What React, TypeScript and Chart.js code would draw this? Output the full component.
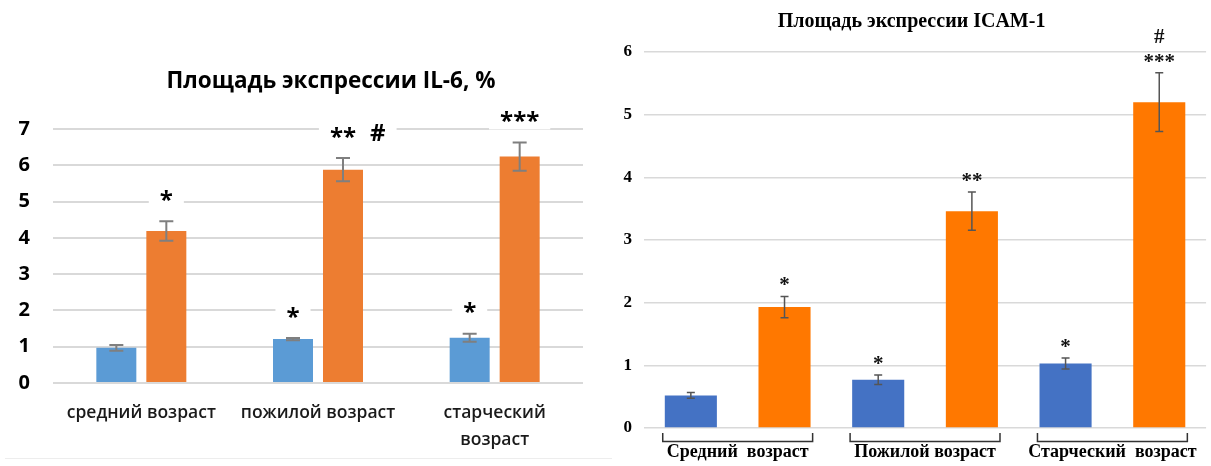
import React, { useEffect, useRef } from 'react';
import { Chart, registerables } from 'chart.js';

Chart.register(...registerables);

// ---- IL-6 panel data ----
const il6Categories: (string | string[])[] = ['средний возраст', 'пожилой возраст', ['старческий', 'возраст']];
const il6SeriesA = [0.97, 1.21, 1.25];
const il6ErrorsA = [0.08, 0.03, 0.11];
const il6SeriesB = [4.19, 5.88, 6.24];
const il6ErrorsB = [0.27, 0.32, 0.39];
const il6MarksA = ['', '*', '*'];
const il6MarksB = ['*', '** #', '***'];
const il6AxisMax = 7;

// ---- ICAM-1 panel data ----
const icamCategories = ['Средний  возраст', 'Пожилой возраст', 'Старческий  возраст'];
const icamSeriesA = [0.52, 0.77, 1.03];
const icamErrorsA = [0.045, 0.075, 0.088];
const icamSeriesB = [1.93, 3.46, 5.2];
const icamErrorsB = [0.17, 0.305, 0.47];
const icamMarksA = ['', '*', '*'];
const icamMarksB = ['*', '**', '#\n***'];
const icamAxisMax = 6;

// Error bars, significance marks, group brackets and the panel title.
const annotatePlugin = {
  id: 'annotate',
  afterDatasetsDraw(chart: any, _args: any, opts: any) {
    const ctx: CanvasRenderingContext2D = chart.ctx;
    const yScale = chart.scales.y;
    chart.data.datasets.forEach((ds: any, di: number) => {
      const meta = chart.getDatasetMeta(di);
      meta.data.forEach((bar: any, i: number) => {
        const v = ds.data[i];
        const e = ds.errors[i];
        const top = yScale.getPixelForValue(v + e);
        const bot = yScale.getPixelForValue(v - e);
        ctx.save();
        ctx.strokeStyle = opts.errColor;
        ctx.lineWidth = opts.errWidth;
        ctx.beginPath();
        ctx.moveTo(bar.x, top);
        ctx.lineTo(bar.x, bot);
        ctx.moveTo(bar.x - opts.cap, top);
        ctx.lineTo(bar.x + opts.cap, top);
        ctx.moveTo(bar.x - opts.cap, bot);
        ctx.lineTo(bar.x + opts.cap, bot);
        ctx.stroke();
        ctx.restore();

        const mark: string = ds.marks[i];
        if (!mark) return;
        const lines = mark.split('\n').reverse();
        ctx.save();
        ctx.font = opts.markFont;
        ctx.fillStyle = opts.markColor;
        ctx.textAlign = 'left';
        ctx.textBaseline = 'alphabetic';
        lines.forEach((line: string, li: number) => {
          const cy = top - opts.markOffset - li * opts.lineStep;
          const tokens = line.split(' ').filter(Boolean);
          const widths = tokens.map((t) => ctx.measureText(t).width);
          const total = widths.reduce((a, b) => a + b, 0) + opts.tokenGap * (tokens.length - 1);
          const startX = bar.x - widths[0] / 2;
          if (opts.markBox) {
            ctx.fillStyle = '#ffffff';
            ctx.fillRect(startX - opts.boxPadX, cy - opts.boxH / 2, total + 2 * opts.boxPadX, opts.boxH);
            ctx.fillStyle = opts.markColor;
          }
          let x = startX;
          tokens.forEach((t, ti) => {
            const m = ctx.measureText(t);
            const by = cy + (m.actualBoundingBoxAscent - m.actualBoundingBoxDescent) / 2;
            ctx.fillText(t, x, by);
            x += widths[ti] + opts.tokenGap;
          });
        });
        ctx.restore();
      });
    });
  },
  afterDraw(chart: any, _args: any, opts: any) {
    const ctx: CanvasRenderingContext2D = chart.ctx;
    const area = chart.chartArea;
    if (opts.bracket) {
      const xScale = chart.scales.x;
      const n = chart.data.labels.length;
      const half = ((xScale.right - xScale.left) / n) * 0.4;
      ctx.save();
      ctx.strokeStyle = opts.bracketColor;
      ctx.lineWidth = 1.5;
      for (let i = 0; i < n; i++) {
        const c = xScale.getPixelForValue(i);
        ctx.beginPath();
        ctx.moveTo(c - half, area.bottom + 5);
        ctx.lineTo(c - half, area.bottom + 13.5);
        ctx.lineTo(c + half, area.bottom + 13.5);
        ctx.lineTo(c + half, area.bottom + 5);
        ctx.stroke();
      }
      ctx.restore();
    }
    ctx.save();
    ctx.font = opts.titleFont;
    ctx.fillStyle = '#000000';
    ctx.textAlign = 'center';
    ctx.textBaseline = 'middle';
    ctx.fillText(opts.title, (area.left + area.right) / 2 + opts.titleDx, opts.titleY);
    ctx.restore();
  },
};

function makeConfig(p: {
  labels: any[];
  a: number[]; ea: number[]; ma: string[];
  b: number[]; eb: number[]; mb: string[];
  colorA: string; colorB: string;
  max: number;
  catPct: number; barPct: number;
  padding: any; yWidth: number; xHeight: number;
  tickFont: any; tickPad: number;
  labelFont: any; labelPad: number; labelColor: string;
  gridColor: string; gridWidth: number;
  annotate: any;
}): any {
  return {
    type: 'bar',
    data: {
      labels: p.labels,
      datasets: [
        { label: 'Серия 1', data: p.a, errors: p.ea, marks: p.ma, backgroundColor: p.colorA },
        { label: 'Серия 2', data: p.b, errors: p.eb, marks: p.mb, backgroundColor: p.colorB },
      ],
    },
    options: {
      responsive: false,
      animation: false,
      categoryPercentage: p.catPct,
      barPercentage: p.barPct,
      layout: { padding: p.padding },
      plugins: {
        legend: { display: false },
        tooltip: { enabled: false },
        title: { display: false },
        annotate: p.annotate,
      },
      scales: {
        x: {
          grid: { display: false, drawTicks: false },
          border: { display: false },
          ticks: { font: p.labelFont, color: p.labelColor, padding: p.labelPad, maxRotation: 0, autoSkip: false },
          afterFit: (s: any) => { s.height = p.xHeight; },
        },
        y: {
          min: 0,
          max: p.max,
          grid: { color: p.gridColor, lineWidth: p.gridWidth, drawTicks: false },
          border: { display: false },
          ticks: { stepSize: 1, font: p.tickFont, color: '#000000', padding: p.tickPad },
          afterFit: (s: any) => { s.width = p.yWidth; },
        },
      },
    },
    plugins: [annotatePlugin],
  };
}

function Panel(props: { width: number; left: number; config: any }) {
  const ref = useRef<HTMLCanvasElement | null>(null);
  useEffect(() => {
    if (!ref.current) return;
    const chart = new Chart(ref.current, props.config);
    return () => chart.destroy();
  }, []);
  return (
    <canvas
      ref={ref}
      width={props.width}
      height={466}
      style={{ position: 'absolute', left: props.left, top: 0, width: props.width, height: 466, display: 'block' }}
    />
  );
}

const il6Config = makeConfig({
  labels: il6Categories,
  a: il6SeriesA, ea: il6ErrorsA, ma: il6MarksA,
  b: il6SeriesB, eb: il6ErrorsB, mb: il6MarksB,
  colorA: '#5b9bd5', colorB: '#ed7d31',
  max: il6AxisMax,
  catPct: 0.566, barPct: 0.8,
  padding: { top: 129, right: 17, left: 0, bottom: 0 },
  yWidth: 53, xHeight: 83,
  tickFont: { family: 'Open Sans', size: 20, weight: 'bold' }, tickPad: 23,
  labelFont: { family: 'Open Sans', size: 17.5, weight: 600, lineHeight: '27px' }, labelPad: 17, labelColor: '#1a1a1a',
  gridColor: '#d9d9d9', gridWidth: 2,
  annotate: {
    errColor: '#7f7f7f', errWidth: 2, cap: 7,
    markFont: 'bold 24px "Open Sans"', markColor: '#000000',
    markOffset: 26, lineStep: 24, tokenGap: 14,
    markBox: true, boxPadX: 11, boxH: 26,
    bracket: false,
    title: 'Площадь экспрессии IL-6, %', titleFont: 'bold 22.5px "Open Sans"', titleDx: 13, titleY: 82,
  },
});

const icamConfig = makeConfig({
  labels: icamCategories,
  a: icamSeriesA, ea: icamErrorsA, ma: icamMarksA,
  b: icamSeriesB, eb: icamErrorsB, mb: icamMarksB,
  colorA: '#4472c4', colorB: '#ff7800',
  max: icamAxisMax,
  catPct: 1.0, barPct: 0.556,
  padding: { top: 52, right: 2, left: 0, bottom: 0 },
  yWidth: 44, xHeight: 38,
  tickFont: { family: 'Liberation Serif', size: 17, weight: 'bold' }, tickPad: 12,
  labelFont: { family: 'Liberation Serif', size: 18, weight: 'bold' }, labelPad: 14, labelColor: '#000000',
  gridColor: '#d9d9d9', gridWidth: 1.5,
  annotate: {
    errColor: '#555555', errWidth: 1.5, cap: 4,
    markFont: 'bold 21px "Liberation Serif"', markColor: '#111111',
    markOffset: 15, lineStep: 22, tokenGap: 6,
    markBox: false, boxPadX: 0, boxH: 0,
    bracket: true, bracketColor: '#333333',
    title: 'Площадь экспрессии ICAM-1', titleFont: 'bold 20px "Liberation Serif"', titleDx: -13.5, titleY: 22,
  },
});

export default function App() {
  return (
    <div style={{ position: 'absolute', left: 0, top: 0, width: 1211, height: 466, background: '#ffffff', overflow: 'hidden' }}>
      <Panel width={600} left={0} config={il6Config} />
      <Panel width={611} left={600} config={icamConfig} />
      <div style={{ position: 'absolute', left: 5, top: 458, width: 607, height: 1, background: '#ededed' }} />
    </div>
  );
}
